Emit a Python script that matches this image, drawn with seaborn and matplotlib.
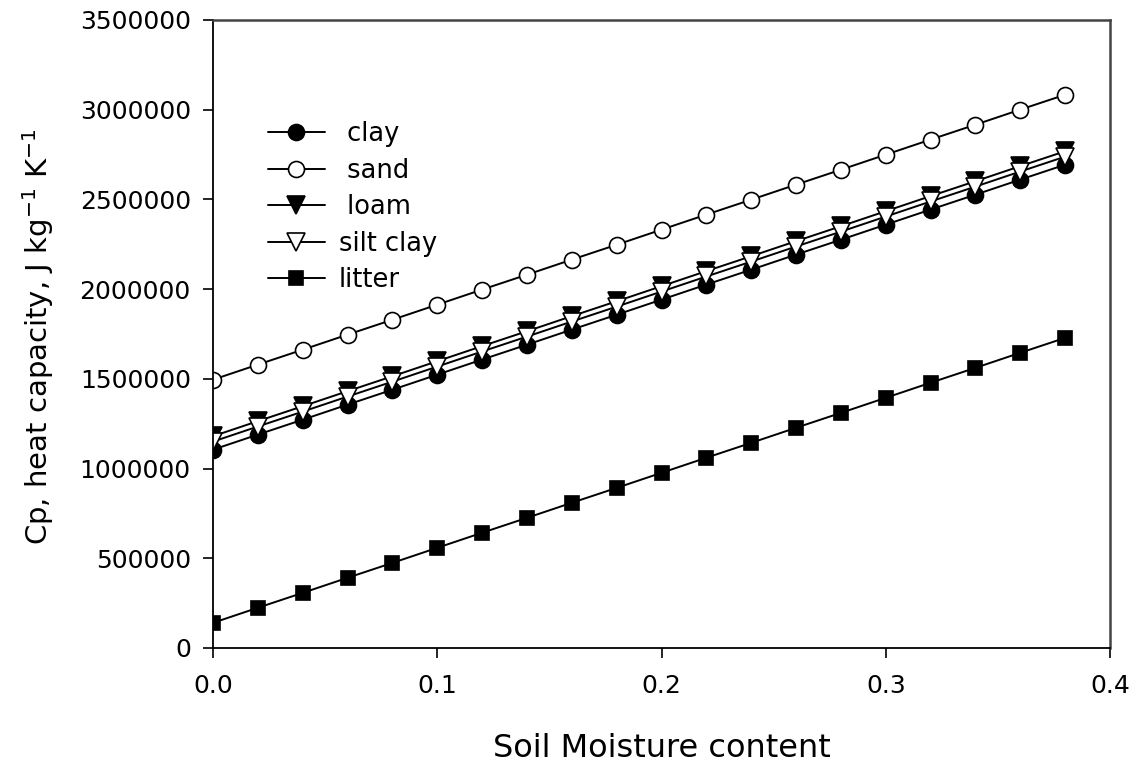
import matplotlib
matplotlib.use("Agg")
import matplotlib.pyplot as plt
import seaborn as sns
import pandas as pd

# Volumetric soil moisture content
moisture = [0.00, 0.02, 0.04, 0.06, 0.08, 0.10, 0.12, 0.14, 0.16, 0.18,
            0.20, 0.22, 0.24, 0.26, 0.28, 0.30, 0.32, 0.34, 0.36, 0.38]

# Heat capacity for each medium
clay = [1105000, 1189000, 1272000, 1356000, 1439000, 1523000, 1607000, 1690000, 1774000, 1857000,
        1941000, 2025000, 2108000, 2192000, 2275000, 2359000, 2443000, 2526000, 2610000, 2693000]
sand = [1495000, 1579000, 1662000, 1746000, 1829000, 1913000, 1997000, 2080000, 2164000, 2247000,
        2331000, 2415000, 2498000, 2582000, 2665000, 2749000, 2833000, 2916000, 3000000, 3083000]
loam = [1180000, 1264000, 1347000, 1431000, 1514000, 1598000, 1682000, 1765000, 1849000, 1932000,
        2016000, 2100000, 2183000, 2267000, 2350000, 2434000, 2518000, 2601000, 2685000, 2768000]
silt_clay = [1150000, 1234000, 1317000, 1401000, 1484000, 1568000, 1652000, 1735000, 1819000, 1902000,
             1986000, 2070000, 2153000, 2237000, 2320000, 2404000, 2488000, 2571000, 2655000, 2738000]
litter = [140000, 224000, 307000, 391000, 474000, 558000, 642000, 725000, 809000, 892000,
          976000, 1060000, 1143000, 1227000, 1310000, 1394000, 1478000, 1561000, 1645000, 1728000]

series_labels = [" clay", " sand", " loam", "silt clay", "litter"]
x_ticks = [0.0, 0.1, 0.2, 0.3, 0.4]
y_ticks = [0, 500000, 1000000, 1500000, 2000000, 2500000, 3000000, 3500000]

sns.set_theme(style="ticks")
plt.rcParams["font.family"] = ["DejaVu Sans"]
plt.rcParams["axes.linewidth"] = 1.3
plt.rcParams["text.color"] = "black"
plt.rcParams["axes.labelcolor"] = "black"
plt.rcParams["xtick.color"] = "black"
plt.rcParams["ytick.color"] = "black"
plt.rcParams["axes.edgecolor"] = "black"

fig = plt.figure(figsize=(11.33, 7.65), dpi=100)
ax = fig.add_axes([0.188, 0.153, 0.7917, 0.821])

styles = [
    (clay, "o", "black", 11.5),
    (sand, "o", "white", 11.5),
    (loam, "v", "black", 12.5),
    (silt_clay, "v", "white", 12.5),
    (litter, "s", "black", 10.5),
]

for (vals, mk, face, ms), lab in zip(styles, series_labels):
    df = pd.DataFrame({"moisture": moisture, "cp": vals})
    sns.lineplot(data=df, x="moisture", y="cp", ax=ax, color="black",
                 linewidth=1.4, marker=mk, markersize=ms,
                 markerfacecolor=face, markeredgecolor="black",
                 markeredgewidth=1.2, label=lab)

ax.set_xlim(0, 0.4)
ax.set_ylim(0, 3500000)
ax.set_xticks(x_ticks)
ax.set_xticklabels([f"{t:.1f}" for t in x_ticks])
ax.set_yticks(y_ticks)
ax.set_yticklabels([str(t) for t in y_ticks])
ax.tick_params(axis="both", direction="out", length=7, width=1.2,
               labelsize=18, pad=9)
ax.tick_params(axis="x", pad=12)
ax.tick_params(right=False, top=False)

for side in ["top", "right"]:
    ax.spines[side].set_color("#444444")
    ax.spines[side].set_linewidth(1.8)

ax.set_xlabel("Soil Moisture content", fontsize=23)
ax.xaxis.label.set_va("center")
ax.xaxis.set_label_coords(0.5, -0.16)
ax.set_ylabel("Cp, heat capacity, J kg$^{\\mathrm{-1}}$ K$^{\\mathrm{-1}}$", fontsize=21)
ax.yaxis.label.set_va("center")
ax.yaxis.set_label_coords(-0.195, 0.495)

ax.legend(loc="upper left", bbox_to_anchor=(0.05, 0.855), frameon=False,
          fontsize=18.5, handlelength=2.2, handletextpad=0.55, labelspacing=0.41,
          borderaxespad=0)

fig.savefig("out.png", dpi=100)
